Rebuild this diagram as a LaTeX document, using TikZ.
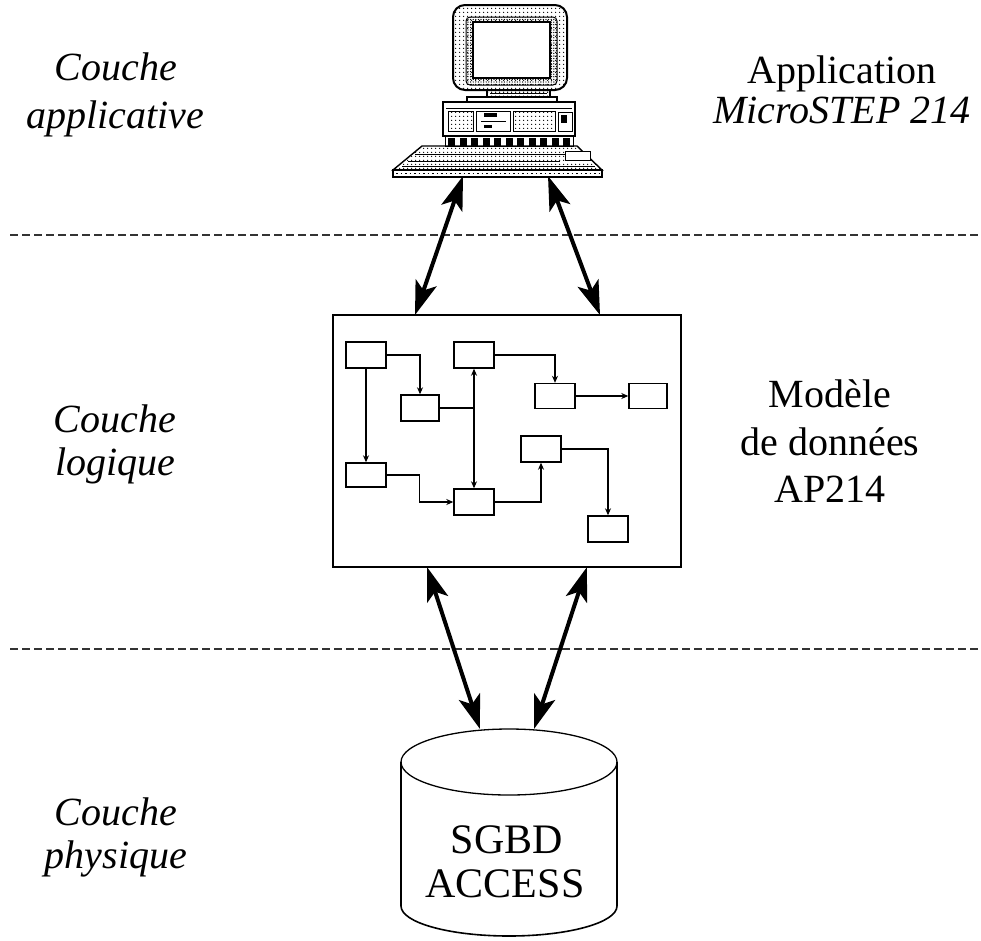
\documentclass[tikz,border=0pt]{standalone}
\usepackage{fontspec}
\setmainfont{Liberation Serif}
\usetikzlibrary{arrows.meta,patterns.meta}
\begin{document}
\begin{tikzpicture}[x=1pt,y=-1pt,
  lbl/.style={font=\fontsize{40}{48}\selectfont, inner sep=0pt, anchor=base},
  layerline/.style={draw=black!80, line width=1.3pt, dash pattern=on 8pt off 4pt},
  bigarrow/.style={line width=4pt, {Stealth[length=34pt,width=22pt,inset=8pt]}-{Stealth[length=34pt,width=22pt,inset=8pt]}},
  ebox/.style={draw, line width=1.4pt, minimum width=40pt, minimum height=26pt, inner sep=0pt},
  elink/.style={line width=1.2pt, -{Stealth[length=7pt,width=6pt]}},
  stip/.style={pattern={Dots[distance=4pt,radius=0.8pt]}},
  densestip/.style={pattern={Dots[distance=2.6pt,radius=0.7pt]}}
]
\useasboundingbox (0,0) rectangle (981,940);
\fill[white] (0,0) rectangle (981,940);

% layer separators
\coordinate (sepAw) at (10,235);  \coordinate (sepAe) at (981,235);
\coordinate (sepBw) at (10,649);  \coordinate (sepBe) at (981,649);
\draw[layerline] (sepAw) -- (sepAe);
\draw[layerline] (sepBw) -- (sepBe);

% layer names
\node[lbl] (la1) at (116,80)  {\itshape Couche};
\node[lbl] (la2) at (115,128) {\itshape applicative};
\node[lbl] (ll1) at (115,432) {\itshape Couche};
\node[lbl] (ll2) at (115,475) {\itshape logique};
\node[lbl] (lp1) at (116,825) {\itshape Couche};
\node[lbl] (lp2) at (116,868) {\itshape physique};

% right-hand captions
\node[lbl] (ra1) at (842,83)  {Application};
\node[lbl] (ra2) at (842,123) {\itshape MicroSTEP 214};
\node[lbl] (rm1) at (830,407) {Modèle};
\node[lbl] (rm2) at (830,455) {de données};
\node[lbl] (rm3) at (830,502) {AP214};

% ---- workstation ----
% monitor housing, bezel and screen
\draw[line width=2pt, rounded corners=12pt, stip] (453,5) rectangle (567,90);
\draw[line width=1pt, rounded corners=4pt, densestip] (466,17) rectangle (557,85);
\draw[line width=1.5pt, fill=white] (473,22) rectangle (550,78);
% neck and foot
\draw[line width=1.2pt, stip] (487,90) rectangle (550,97);
\draw[line width=1pt] (490,93.5) -- (547,93.5);
\draw[line width=1.2pt, fill=white] (467,97) rectangle (557,102);
% system unit
\draw[line width=1.8pt, fill=white] (443,102) rectangle (575,136);
\draw[line width=1pt] (446,108) -- (572,108);
\draw[line width=1pt, stip] (448,111) rectangle (473,131);
\draw[line width=1pt] (476,111) rectangle (510,131);
\draw[line width=1pt] (481,121) -- (506,121);
\fill (484,113) rectangle (497,117);
\fill (484,125) rectangle (492,128);
\draw[line width=1pt, stip] (513,111) rectangle (555,131);
\draw[line width=1pt] (558,112) rectangle (572,131);
\fill (561,115) rectangle (567,123);
% top row of keys
\draw[line width=1pt, fill=white] (445,136) rectangle (573,146);
\foreach \k in {0,...,10} \fill (448+\k*11.5,137.5) rectangle ++(7,8);
% keyboard deck
\draw[line width=1.4pt, stip] (422,146) -- (577,146) -- (602,170) -- (393,170) -- cycle;
\draw[line width=1pt] (415,154) -- (583,154);
\draw[line width=1pt] (408,161) -- (560,161);
\draw[line width=1pt, fill=white] (565,151) rectangle (590,160);
\draw[line width=1pt] (402,166) -- (595,166);
% front edge
\draw[line width=1.5pt, fill=white] (393,170) rectangle (602,177);
\draw[line width=1pt, dash pattern=on 1.5pt off 3pt] (396,173.5) -- (599,173.5);
\coordinate (pcL) at (463,176);
\coordinate (pcR) at (548,176);

% ---- data model ----
\node[draw, line width=2pt, minimum width=348pt, minimum height=252pt, inner sep=0pt] (model) at (507,441) {};
\coordinate (mTL) at (415,315);
\coordinate (mTR) at (600,315);
\coordinate (mBL) at (427,567);
\coordinate (mBR) at (587,567);

\node[ebox] (b1) at (366,355) {};
\node[ebox, minimum width=38pt] (b2) at (420,408) {};
\node[ebox] (b3) at (474,355) {};
\node[ebox, minimum height=25pt] (b4) at (555,396) {};
\node[ebox, minimum width=38pt, minimum height=25pt] (b5) at (648,396) {};
\node[ebox, minimum height=24pt] (b6) at (366,475) {};
\node[ebox] (b7) at (474,502) {};
\node[ebox] (b8) at (541,449) {};
\node[ebox] (b9) at (608,529) {};

\draw[elink] (b1.east) -| (b2.north);
\draw[elink] (b1.south) -- (b6.north);
\draw[line width=1.2pt] (b2.east) -- (b2.east -| b3.south);
\draw[line width=1.2pt, {Stealth[length=7pt,width=6pt]}-{Stealth[length=7pt,width=6pt]}] (b3.south) -- (b7.north);
\draw[elink] (b3.east) -| (b4.north);
\draw[elink] (b4.east) -- (b5.west);
\draw[elink] (b6.east) -- ++(33,0) |- (b7.west);
\draw[elink] (b7.east) -| (b8.south);
\draw[elink] (b8.east) -| (b9.north);

% ---- database ----
\draw[line width=1.6pt, fill=white] (401,762) -- (401,906) arc[start angle=180, end angle=0, x radius=108, y radius=30] -- (617,762);
\draw[line width=1.3pt] (509,762) ellipse [x radius=108, y radius=33];
\node[lbl, font=\fontsize{42}{48}\selectfont] (db1) at (507,853) {SGBD};
\node[lbl, font=\fontsize{42}{48}\selectfont] (db2) at (505,897) {ACCESS};
\coordinate (dbL) at (480,729);
\coordinate (dbR) at (534,729);

% ---- exchanges between layers ----
\draw[bigarrow] (pcL) -- (mTL);
\draw[bigarrow] (pcR) -- (mTR);
\draw[bigarrow] (mBL) -- (dbL);
\draw[bigarrow] (mBR) -- (dbR);
\end{tikzpicture}
\end{document}
